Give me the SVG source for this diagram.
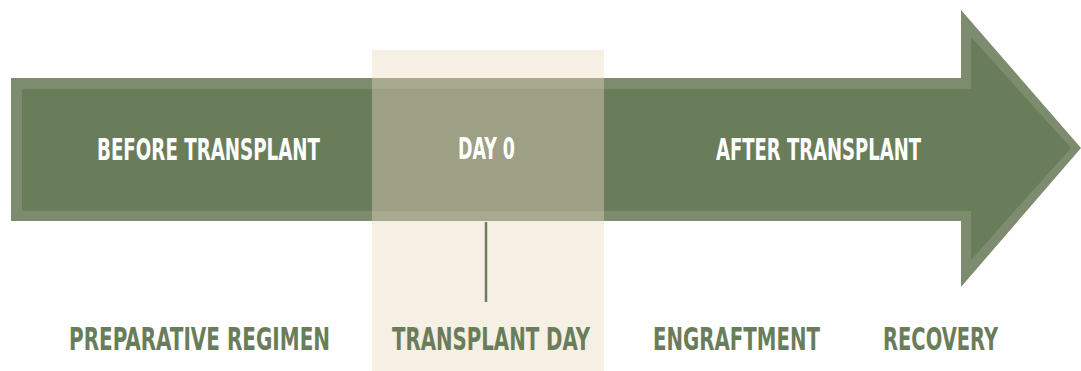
<svg xmlns="http://www.w3.org/2000/svg" width="1081" height="371" viewBox="0 0 1081 371">
<style>
.t{font-family:"DejaVu Sans Condensed","Liberation Sans",sans-serif;font-weight:bold;text-anchor:middle}
.w{fill:#ffffff;font-size:29.5px}
.g{fill:#6a7d5b;font-size:32.5px}
</style>
<rect width="1081" height="371" fill="#ffffff"/>
<g id="panel"><rect x="372" y="50" width="232" height="321" fill="#f6efe3"/></g>
<g id="arrow">
<path d="M11 78 H961 V10 L1081 148 L961 287 V221 H11 Z" fill="#7d8c6e"/>
<path d="M22 89 H971 V37 L1071 148 L971 260 V211 H22 Z" fill="#6a7d5b"/>
<rect x="372" y="78" width="232" height="143" fill="#a7aa8e"/>
<rect x="372" y="89" width="232" height="122" fill="#9da085"/>
</g>
<g id="connectors"><line x1="486" y1="222" x2="486" y2="302" stroke="#6a7d5b" stroke-width="2.5"/></g>
<g id="before"><text class="t w" transform="translate(208.5,160) scale(0.7,1)" textLength="318.6" lengthAdjust="spacingAndGlyphs">BEFORE TRANSPLANT</text></g>
<g id="day0"><text class="t w" transform="translate(486.5,159) scale(0.7,1)" textLength="81.4" lengthAdjust="spacingAndGlyphs">DAY 0</text></g>
<g id="after"><text class="t w" transform="translate(818.5,160) scale(0.7,1)" textLength="292.9" lengthAdjust="spacingAndGlyphs">AFTER TRANSPLANT</text></g>
<g id="prep"><text class="t g" transform="translate(199.5,350) scale(0.7,1)" textLength="372.9" lengthAdjust="spacingAndGlyphs">PREPARATIVE REGIMEN</text></g>
<g id="tday"><text class="t g" transform="translate(491,350) scale(0.7,1)" textLength="282.9" lengthAdjust="spacingAndGlyphs">TRANSPLANT DAY</text></g>
<g id="engraft"><text class="t g" transform="translate(736.5,350) scale(0.7,1)" textLength="238.6" lengthAdjust="spacingAndGlyphs">ENGRAFTMENT</text></g>
<g id="recovery"><text class="t g" transform="translate(940.5,350) scale(0.7,1)" textLength="164.3" lengthAdjust="spacingAndGlyphs">RECOVERY</text></g>
</svg>
